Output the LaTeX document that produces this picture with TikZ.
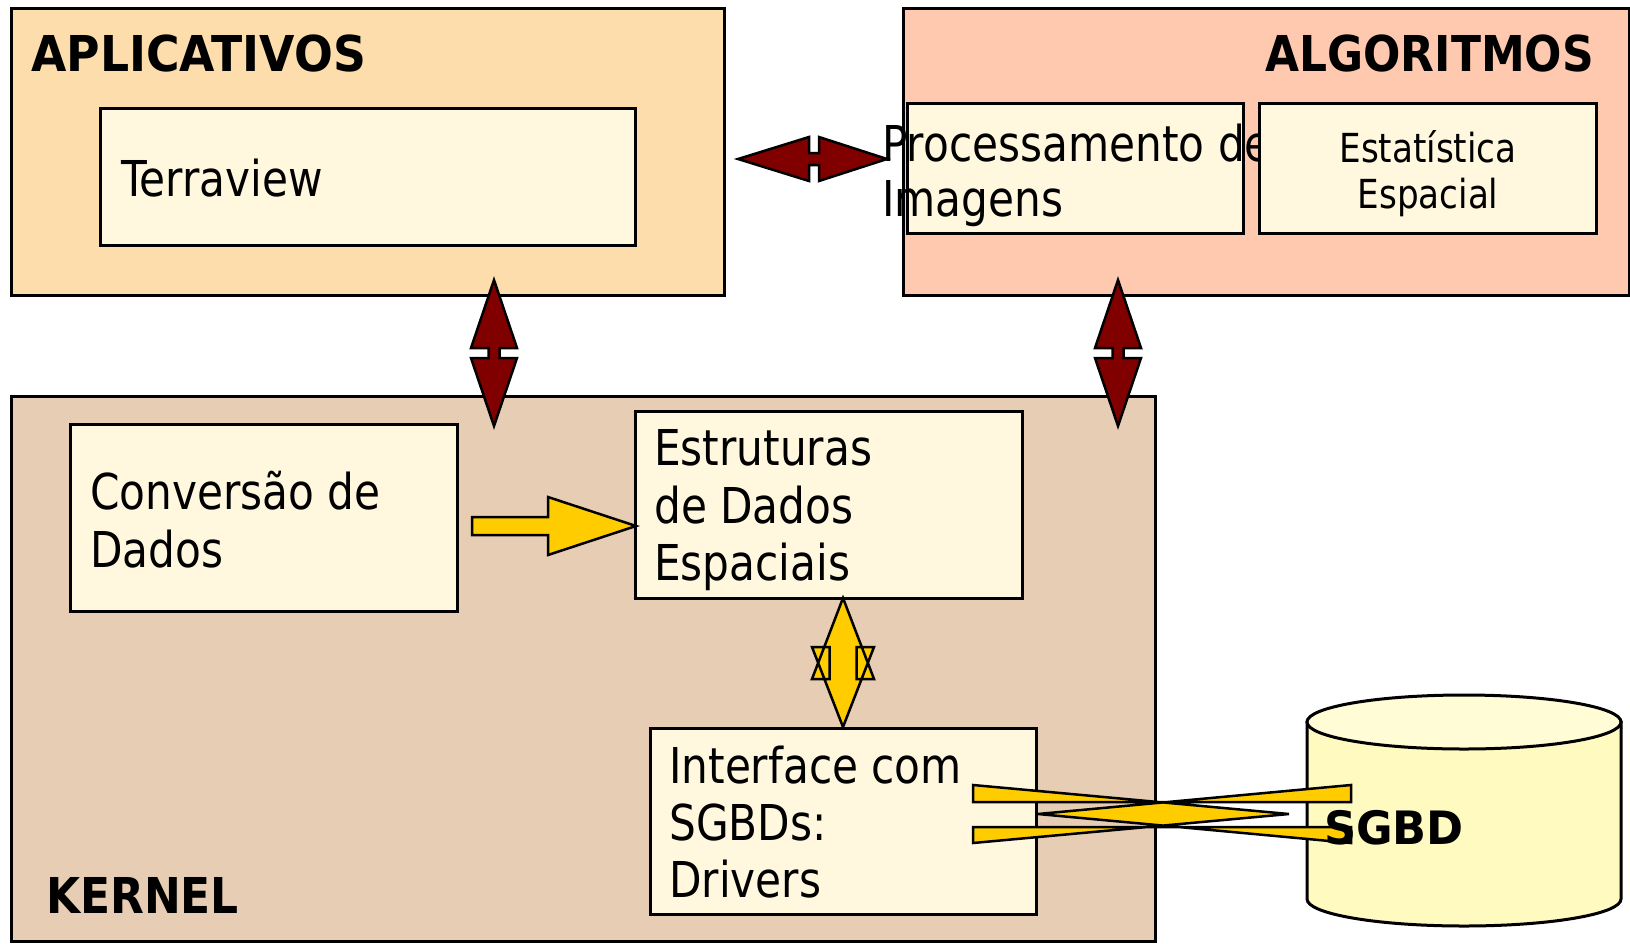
\documentclass[tikz,border=0pt]{standalone}
\usepackage{fontspec}
\setmainfont{DejaVu Sans}[FakeStretch=0.855]
\newfontfamily\titlefont{DejaVu Sans}[FakeStretch=0.925]
\newfontfamily\titlenarrow{DejaVu Sans}[FakeStretch=0.89]
\newfontfamily\dbfont{DejaVu Sans}[FakeStretch=0.97]
\definecolor{aplbg}{HTML}{FDDDAC}
\definecolor{algbg}{HTML}{FFC9B0}
\definecolor{innerbg}{HTML}{FFF8DE}
\definecolor{kernbg}{HTML}{E6CDB3}
\definecolor{cylside}{HTML}{FFFAC0}
\definecolor{cyltop}{HTML}{FFFCD6}
\definecolor{darkred}{HTML}{800000}
\definecolor{gold}{HTML}{FFCC00}
\tikzset{
  panel/.style={draw=black, line width=3pt, inner sep=0pt, outer sep=0pt, anchor=north west},
  innerbox/.style={panel, fill=innerbg},
  lbl/.style={anchor=base west, inner sep=0pt, font=\fontsize{49.4}{57}\selectfont},
  smalllbl/.style={anchor=base, inner sep=0pt, font=\fontsize{40}{46}\selectfont},
  titlelbl/.style={inner sep=0pt, font=\titlefont\bfseries\fontsize{49.4}{57}\selectfont},
  titlenlbl/.style={inner sep=0pt, font=\titlenarrow\bfseries\fontsize{49.4}{57}\selectfont},
  redarrow/.style={fill=darkred, draw=black, line width=2.5pt},
  yelarrow/.style={fill=gold, draw=black, line width=2.5pt},
  cyl/.style={draw=black, line width=3pt}
}
\begin{document}
\begin{tikzpicture}[x=1pt,y=-1pt]
\useasboundingbox (0,0) rectangle (1630,943);
\fill[white] (0,0) rectangle (1630,943);

% panels
\node[panel, fill=aplbg, minimum width=713, minimum height=287] (apl) at (11,8) {};
\node[panel, fill=algbg, minimum width=726, minimum height=287] (alg) at (903,8) {};
\node[panel, fill=kernbg, minimum width=1144, minimum height=545] (kern) at (11,396) {};

% titles
\node[titlelbl, anchor=base west] (tapl) at (31,71) {APLICATIVOS};
\node[titlenlbl, anchor=base east] (talg) at (1594,71) {ALGORITMOS};
\node[titlenlbl, anchor=base west] (tkern) at (46,913) {KERNEL};

% inner boxes and texts
\node[innerbox, minimum width=535, minimum height=137] (terra) at (100,108) {};
\node[lbl] (tterra) at (121,196) {Terraview};

\node[innerbox, minimum width=336, minimum height=130] (proc) at (907,103) {};
\node[lbl] (tproc1) at (882,161) {Processamento de};
\node[lbl] (tproc2) at (882,216) {Imagens};

\node[innerbox, minimum width=337, minimum height=130] (estat) at (1259,103) {};
\node[smalllbl] (testat1) at (1428,162) {Estatística};
\node[smalllbl] (testat2) at (1428,208) {Espacial};

\node[innerbox, minimum width=387, minimum height=187] (conv) at (70,424) {};
\node[lbl] (tconv1) at (90,509) {Conversão de};
\node[lbl] (tconv2) at (90,567) {Dados};

\node[innerbox, minimum width=387, minimum height=187] (estr) at (635,411) {};
\node[lbl] (testr1) at (654,465) {Estruturas};
\node[lbl] (testr2) at (654,523) {de Dados};
\node[lbl] (testr3) at (654,580) {Espaciais};

\node[innerbox, minimum width=386, minimum height=186] (intf) at (650,728) {};
\node[lbl] (tintf1) at (669,783) {Interface com};
\node[lbl] (tintf2) at (669,840) {SGBDs:};
\node[lbl] (tintf3) at (669,897) {Drivers};

% database cylinder
\draw[cyl, fill=cylside] (1307,722) -- (1307,899)
  arc[start angle=180, end angle=0, x radius=157, y radius=27] -- (1621,722) -- cycle;
\draw[cyl, fill=cyltop] (1464,722) ellipse[x radius=157, y radius=27];

% connector end points
\coordinate (hL) at (738,159);
\coordinate (hR) at (887,159);
\coordinate (vL1) at (494,280);
\coordinate (vL2) at (494,426);
\coordinate (vR1) at (1118,280);
\coordinate (vR2) at (1118,426);
\coordinate (yS) at (472,526);
\coordinate (yT) at (636,526);
\coordinate (yU) at (843,598);
\coordinate (yD) at (843,727);
\coordinate (dbA) at (1289,814);
\coordinate (dbB) at (1038,814);

% APLICATIVOS <-> ALGORITMOS
\draw[redarrow] (hL) -- (809,137) -- (809,153) -- (819,153) -- (819,137) -- (hR)
  -- (819,181) -- (819,165) -- (809,165) -- (809,181) -- cycle;
% APLICATIVOS <-> KERNEL
\draw[redarrow] (vL1) -- (517,348) -- (499.5,348) -- (499.5,358) -- (517,358) -- (vL2)
  -- (471,358) -- (488.5,358) -- (488.5,348) -- (471,348) -- cycle;
% ALGORITMOS <-> KERNEL
\draw[redarrow] (vR1) -- (1141,348) -- (1123.5,348) -- (1123.5,358) -- (1141,358) -- (vR2)
  -- (1095,358) -- (1112.5,358) -- (1112.5,348) -- (1095,348) -- cycle;
% Conversao -> Estruturas
\draw[yelarrow] (472,517) -- (548,517) -- (548,497) -- (yT) -- (548,555) -- (548,535) -- (472,535) -- cycle;
% Estruturas <-> Interface
\draw[yelarrow] (yU) -- (874,679) -- (856.5,679) -- (856.5,647) -- (874,647) -- (yD)
  -- (812,647) -- (829.5,647) -- (829.5,679) -- (812,679) -- cycle;
% Interface <-> SGBD
\draw[yelarrow] (dbA) -- (973,785) -- (973,802) -- (1351,802) -- (1351,785) -- (dbB)
  -- (1351,843) -- (1351,827) -- (973,827) -- (973,843) -- cycle;

\node[inner sep=0pt, anchor=base west, font=\dbfont\bfseries\fontsize{46}{54}\selectfont] (tsgbd) at (1324,844) {SGBD};
\end{tikzpicture}
\end{document}
